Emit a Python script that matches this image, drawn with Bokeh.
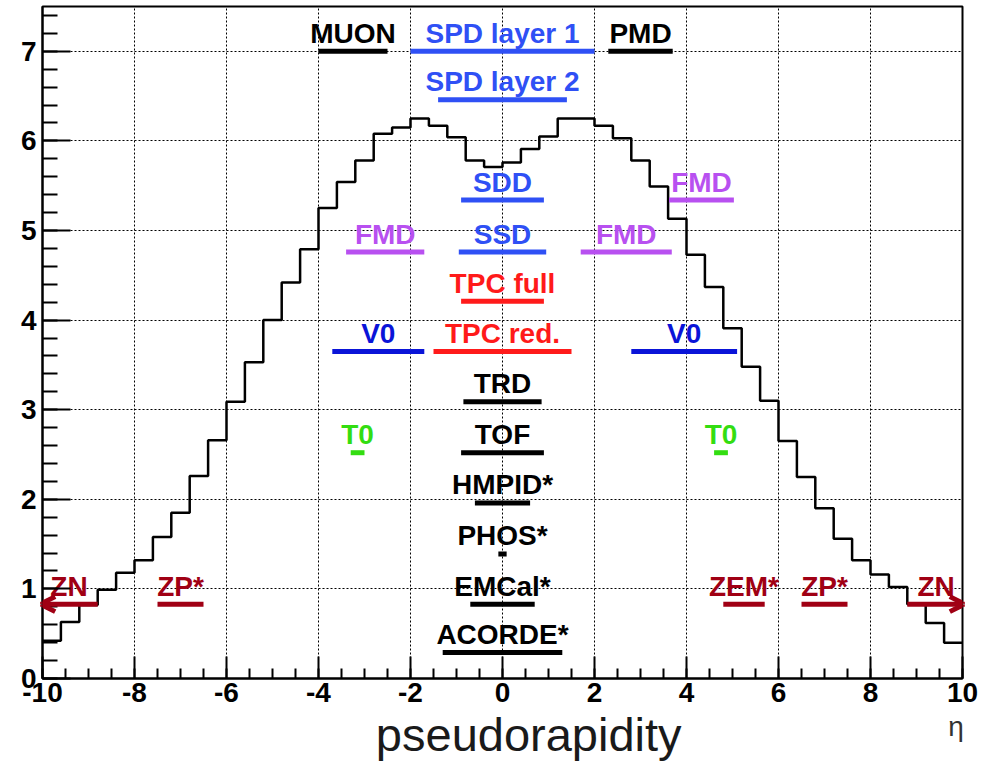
from bokeh.plotting import figure
from bokeh.models import (Range1d, SingleIntervalTicker, FixedTicker, Arrow,
                          OpenHead, ColumnDataSource, LinearAxis)
from bokeh.core.properties import value
from bokeh.embed import file_html
from bokeh.resources import INLINE

# ---- data: dN/deta histogram (bins of 0.4 from -10 to 10) ----
bin_edges_start = -10.0
bin_width = 0.4
dndeta = [0.42, 0.63, 0.82, 0.99, 1.18, 1.32, 1.58, 1.85, 2.26, 2.66,
          3.09, 3.53, 4.00, 4.42, 4.79, 5.25, 5.54, 5.78, 6.08, 6.15,
          6.25, 6.17, 6.04, 5.78, 5.71,
          5.76, 5.91, 6.05, 6.25, 6.25, 6.17, 6.03, 5.78, 5.49, 5.13,
          4.73, 4.37, 3.91, 3.48, 3.10, 2.65, 2.25, 1.90, 1.56, 1.32,
          1.16, 1.02, 0.83, 0.62, 0.40]

# ---- detector acceptances ----
det_names = ["MUON", "SPD layer 1", "PMD", "SPD layer 2", "SDD", "FMD",
             "SSD", "FMD", "FMD", "TPC full", "V0", "TPC red.", "V0",
             "TRD", "T0", "TOF", "T0", "HMPID*", "PHOS*", "ZP*", "EMCal*",
             "ZEM*", "ZP*", "ACORDE*"]
det_eta_min = [-4.0, -2.0, 2.3, -1.4, -0.9, 3.62, -0.95, -3.4, 1.7, -0.9,
               -3.7, -1.5, 2.8, -0.85, -3.3, -0.9, 4.6, -0.6, -0.09, -7.5,
               -0.7, 4.8, 6.5, -1.3]
det_eta_max = [-2.5, 2.0, 3.7, 1.4, 0.9, 5.03, 0.95, -1.7, 3.68, 0.9,
               -1.7, 1.5, 5.1, 0.85, -3.0, 0.9, 4.9, 0.6, 0.09, -6.5,
               0.7, 5.7, 7.5, 1.3]
det_row = [7.0, 7.0, 7.0, 6.46, 5.34, 5.34, 4.76, 4.76, 4.76, 4.21,
           3.65, 3.65, 3.65, 3.09, 2.52, 2.52, 2.52, 1.96, 1.39, 0.83,
           0.83, 0.83, 0.83, 0.29]
det_group = ["black", "its", "black", "its", "its", "fmd", "its", "fmd",
             "fmd", "tpc", "v0", "tpc", "v0", "black", "t0", "black", "t0",
             "black", "black", "zdc", "black", "zdc", "zdc", "black"]

# ZN (open-ended coverage, drawn as arrows)
zn_names = ["ZN", "ZN"]
zn_eta_inner = [-8.8, 8.8]
zn_eta_outer = [-10.05, 10.05]
zn_row = [0.83, 0.83]

group_colors = {"black": "#000000", "its": "#2f50f5", "fmd": "#b850f0",
                "tpc": "#ff1a1a", "v0": "#0a14d8", "t0": "#33dd11",
                "zdc": "#a00014"}

x_ticks = [-10, -8, -6, -4, -2, 0, 2, 4, 6, 8, 10]
x_tick_labels = ["-10", "-8", "-6", "-4", "-2", "0", "2", "4", "6", "8", "10"]

x_title = "pseudorapidity"
x_title_pos = 0.57
x_unit = "η"
x_unit_pos = 9.86

FONT = "Liberation Sans"

p = figure(width=985, height=763, output_backend="svg", toolbar_location=None,
           x_range=Range1d(-10, 10), y_range=Range1d(0, 7.5),
           min_border_left=42, min_border_right=23, min_border_top=6,
           min_border_bottom=10)
p.background_fill_color = "white"
p.border_fill_color = "white"
p.outline_line_color = "black"
p.outline_line_width = 2

# axes
p.xaxis.ticker = SingleIntervalTicker(interval=2, num_minor_ticks=4)
p.xaxis.major_label_overrides = {t: s for t, s in zip(x_ticks, x_tick_labels)}
p.yaxis.ticker = SingleIntervalTicker(interval=1, num_minor_ticks=5)
for ax in (p.xaxis, p.yaxis):
    ax.axis_line_color = "black"
    ax.axis_line_width = 2
    ax.major_tick_line_color = "black"
    ax.major_tick_line_width = 2
    ax.minor_tick_line_color = "black"
    ax.minor_tick_line_width = 2
    ax.major_tick_out = 0
    ax.minor_tick_out = 0
    ax.major_label_text_font = FONT
    ax.major_label_text_font_style = "bold"
    ax.major_label_text_font_size = "28px"
    ax.major_label_text_color = "black"
p.xaxis.major_tick_in = 22
p.xaxis.minor_tick_in = 10
p.yaxis.major_tick_in = 28
p.yaxis.minor_tick_in = 15
p.xaxis.major_label_standoff = 4
p.yaxis.major_label_standoff = 6


def label_axis(pos, text, size, color, standoff):
    ax = LinearAxis(ticker=FixedTicker(ticks=[pos]),
                    major_label_overrides={pos: text})
    ax.axis_line_color = None
    ax.major_tick_line_color = None
    ax.minor_tick_line_color = None
    ax.major_tick_in = 0
    ax.major_tick_out = 0
    ax.minor_tick_in = 0
    ax.minor_tick_out = 0
    ax.major_label_text_font = FONT
    ax.major_label_text_font_size = size
    ax.major_label_text_color = color
    ax.major_label_standoff = standoff
    p.add_layout(ax, "below")


label_axis(x_unit_pos, x_unit, "28px", "#333333", 6)
label_axis(x_title_pos, x_title, "47px", "#1a1a1a", -37)

# grids
p.xgrid.ticker = SingleIntervalTicker(interval=2)
p.ygrid.ticker = SingleIntervalTicker(interval=1)
for g in (p.xgrid, p.ygrid):
    g.grid_line_color = "black"
    g.grid_line_dash = "2 2"
    g.grid_line_width = 1

# histogram
edges = [bin_edges_start + i * bin_width for i in range(len(dndeta) + 1)]
p.step(x=edges, y=dndeta + [dndeta[-1]], mode="after",
       line_color="black", line_width=2.5)

# detector bars
colors = [group_colors[g] for g in det_group]
src = ColumnDataSource(dict(
    x0=det_eta_min, x1=det_eta_max, y=det_row, name=det_names, color=colors,
    xc=[(a + b) / 2 for a, b in zip(det_eta_min, det_eta_max)]))
p.segment(x0="x0", y0="y", x1="x1", y1="y", source=src,
          line_color="color", line_width=5, line_cap="butt")
p.text(x="xc", y="y", text="name", source=src, text_color="color",
       text_font=value(FONT), text_font_style="bold",
       text_font_size="28px", text_align="center",
       text_baseline="middle", y_offset=-18)

# ZN arrows
zdc_color = group_colors["zdc"]
for xi, xo, yr in zip(zn_eta_inner, zn_eta_outer, zn_row):
    p.add_layout(Arrow(x_start=xi, y_start=yr, x_end=xo, y_end=yr,
                       line_color=zdc_color, line_width=5,
                       end=OpenHead(size=15, line_color=zdc_color,
                                    line_width=5)))
zn_src = ColumnDataSource(dict(
    x=[(a + b) / 2 for a, b in zip(zn_eta_inner, zn_eta_outer)],
    y=zn_row, name=zn_names))
p.text(x="x", y="y", text="name", source=zn_src, text_color=zdc_color,
       text_font=value(FONT), text_font_style="bold",
       text_font_size="28px", text_align="center",
       text_baseline="middle", y_offset=-18)

open("out.html", "w").write(file_html(p, INLINE))
